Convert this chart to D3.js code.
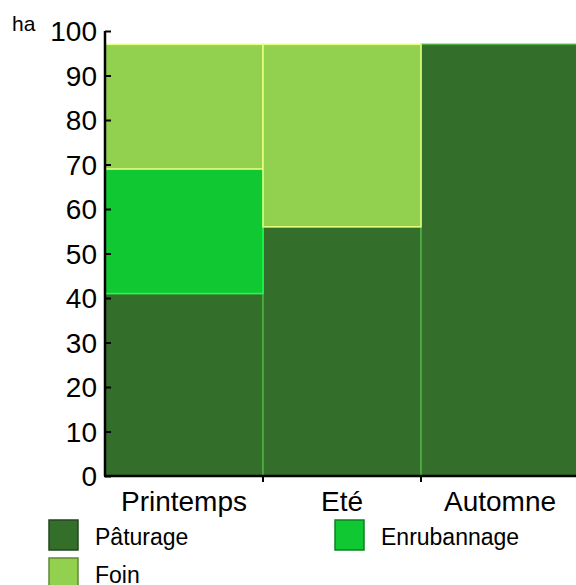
<!DOCTYPE html>
<html>
<head>
<meta charset="utf-8">
<script src="https://cdn.jsdelivr.net/npm/d3@7"></script>
<style>
  html, body { margin: 0; padding: 0; background: #fff; }
  svg { display: block; font-family: "Liberation Sans", Arial, sans-serif; }
</style>
</head>
<body>
<svg id="chart" width="576" height="585"></svg>
<script>
// data
const seasons = ["Printemps", "Eté", "Automne"];
const series = ["Pâturage", "Enrubannage", "Foin"];
const paturage = [41, 56, 97];
const enrubannage = [28, 0, 0];
const foin = [28, 41, 0];
const yTicks = [0, 10, 20, 30, 40, 50, 60, 70, 80, 90, 100];
const colors = { "Pâturage": "#336f2b", "Enrubannage": "#10c832", "Foin": "#92d050" };
const legendOrder = ["Pâturage", "Enrubannage", "Foin"];

const svg = d3.select("#chart");

const x = d3.scaleBand().domain(seasons).range([105, 579]).padding(0);
const y = d3.scaleLinear().domain([0, 100]).range([476, 31]);

// stack the rows
const rows = seasons.map((s, i) => ({
  season: s,
  "Pâturage": paturage[i],
  "Enrubannage": enrubannage[i],
  "Foin": foin[i]
}));
const stacked = d3.stack().keys(series)(rows);

svg.append("g")
  .selectAll("g")
  .data(stacked)
  .join("g")
    .attr("fill", d => colors[d.key])
    .attr("stroke", d => d3.color(colors[d.key]).brighter(1.3))
    .attr("stroke-width", 1.5)
  .selectAll("rect")
  .data(d => d.filter(p => p[1] - p[0] > 0))
  .join("rect")
    .attr("x", d => x(d.data.season))
    .attr("width", x.bandwidth())
    .attr("y", d => y(d[1]))
    .attr("height", d => y(d[0]) - y(d[1]));

// y axis, ticks pointing inward
const yAxis = svg.append("g")
  .attr("transform", "translate(105,0)")
  .call(d3.axisRight(y).tickValues(yTicks).tickSize(6).tickFormat(""));
yAxis.select(".domain").attr("stroke", "#000").attr("stroke-width", 2.5)
  .attr("d", "M0," + y(100) + "V" + y(0));
yAxis.selectAll(".tick line").attr("stroke", "#000").attr("stroke-width", 2);

svg.append("g")
  .selectAll("text")
  .data(yTicks)
  .join("text")
    .attr("x", 97)
    .attr("y", d => y(d))
    .attr("dy", "0.36em")
    .attr("text-anchor", "end")
    .attr("font-size", 28)
    .text(d => d);

svg.append("text")
  .attr("x", 12).attr("y", 31)
  .attr("font-size", 21)
  .text("ha");

// x axis line with boundary ticks
svg.append("line")
  .attr("x1", 104).attr("x2", 576)
  .attr("y1", y(0)).attr("y2", y(0))
  .attr("stroke", "#000").attr("stroke-width", 2.5);
svg.append("g")
  .selectAll("line")
  .data(seasons.slice(1))
  .join("line")
    .attr("x1", d => x(d)).attr("x2", d => x(d))
    .attr("y1", y(0)).attr("y2", y(0) + 6)
    .attr("stroke", "#000").attr("stroke-width", 2);

svg.append("g")
  .selectAll("text")
  .data(seasons)
  .join("text")
    .attr("x", d => x(d) + x.bandwidth() / 2)
    .attr("y", 511)
    .attr("text-anchor", "middle")
    .attr("font-size", 28)
    .text(d => d);

// legend
const legendPos = [[49, 520], [335, 520], [49, 558]];
const legend = svg.append("g")
  .selectAll("g")
  .data(legendOrder)
  .join("g")
    .attr("transform", (d, i) => "translate(" + legendPos[i][0] + "," + legendPos[i][1] + ")");
legend.append("rect")
  .attr("width", 29).attr("height", 30)
  .attr("fill", d => colors[d])
  .attr("stroke", d => d3.color(colors[d]).darker(1.2))
  .attr("stroke-width", 1.5);
legend.append("text")
  .attr("x", 46).attr("y", 25)
  .attr("font-size", 23)
  .text(d => d);
</script>
</body>
</html>
